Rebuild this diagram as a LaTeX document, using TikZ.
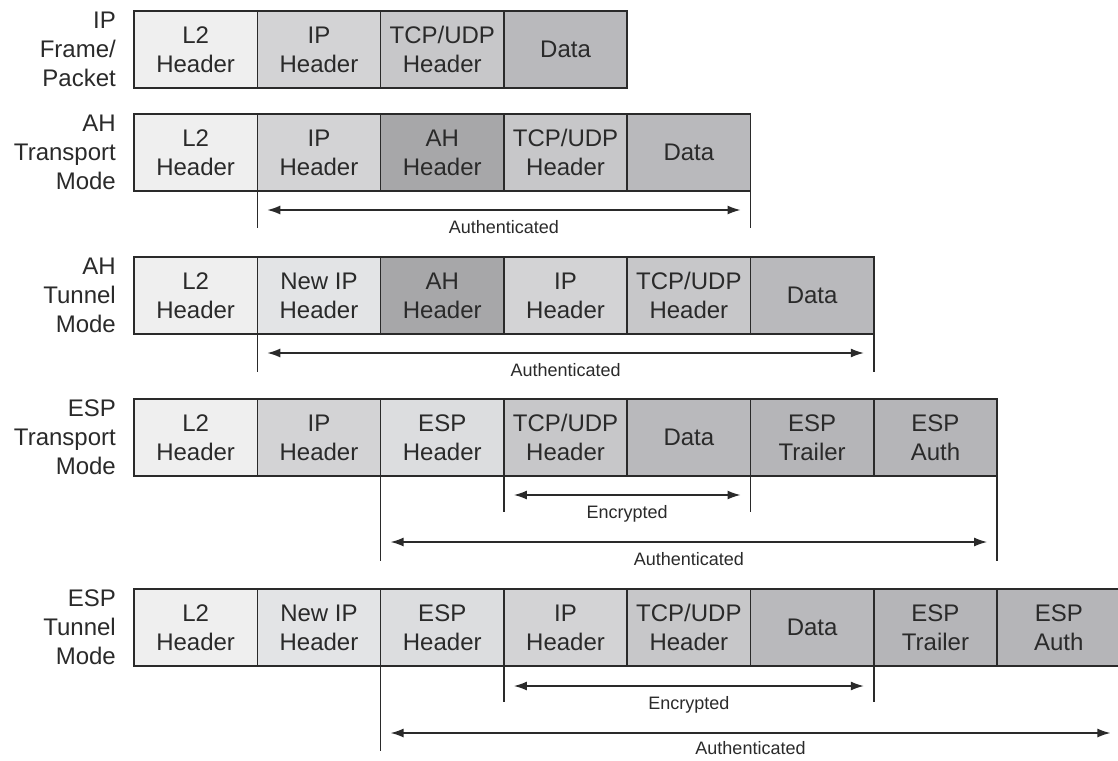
\documentclass[tikz,border=0pt]{standalone}
\usepackage{fontspec}
\setmainfont{Liberation Sans}
\usetikzlibrary{arrows.meta}

\definecolor{ink}{HTML}{2A2A2A}
\definecolor{fillLtwo}{HTML}{EFEFEF}
\definecolor{fillNewIP}{HTML}{E3E4E6}
\definecolor{fillESPhdr}{HTML}{DCDDDF}
\definecolor{fillIP}{HTML}{D3D3D5}
\definecolor{fillTCP}{HTML}{C7C7C9}
\definecolor{fillData}{HTML}{B9B9BC}
\definecolor{fillAH}{HTML}{A7A7A9}
\definecolor{fillESPtail}{HTML}{B5B5B8}

\begin{document}
\begin{tikzpicture}[x=1pt, y=-1pt,
  cell/.style={draw=ink, line width=1.6pt, minimum width=123.3pt,
    minimum height=77pt, inner sep=0pt, outer sep=0pt, anchor=north west,
    align=center, text=ink, font=\fontsize{24}{29}\selectfont},
  ltwo/.style={cell, fill=fillLtwo},
  newip/.style={cell, fill=fillNewIP},
  esphdr/.style={cell, fill=fillESPhdr},
  iphdr/.style={cell, fill=fillIP},
  tcphdr/.style={cell, fill=fillTCP},
  datacell/.style={cell, fill=fillData},
  ahhdr/.style={cell, fill=fillAH},
  esptail/.style={cell, fill=fillESPtail},
  rowlabel/.style={anchor=east, align=right, inner sep=0pt, text=ink,
    font=\fontsize{24}{29}\selectfont},
  tickline/.style={draw=ink, line width=1.4pt},
  span/.style={draw=ink, line width=1.4pt,
    {Latex[length=13pt,width=9pt]}-{Latex[length=13pt,width=9pt]},
    shorten <=10pt, shorten >=10pt},
  spanlabel/.style={inner sep=0pt, anchor=north, yshift=-10pt, text=ink,
    font=\fontsize{18}{20}\selectfont}
]
\useasboundingbox (0,0) rectangle (1118,760);

% ---- IP frame / packet ----
\node[ltwo]   (a1) at (134,11) {L2\\Header};
\node[iphdr]  (a2) at (a1.north east) {IP\\Header};
\node[tcphdr] (a3) at (a2.north east) {TCP/UDP\\Header};
\node[datacell] (a4) at (a3.north east) {Data};
\node[rowlabel] (la) at (116,49.5) {IP\\Frame/\\Packet};

% ---- AH transport mode ----
\node[ltwo]   (b1) at (134,114) {L2\\Header};
\node[iphdr]  (b2) at (b1.north east) {IP\\Header};
\node[ahhdr]  (b3) at (b2.north east) {AH\\Header};
\node[tcphdr] (b4) at (b3.north east) {TCP/UDP\\Header};
\node[datacell] (b5) at (b4.north east) {Data};
\node[rowlabel] (lb) at (116,152.5) {AH\\Transport\\Mode};

\coordinate (bL) at ([yshift=-37pt]b2.south west);
\coordinate (bR) at ([yshift=-37pt]b5.south east);
\draw[tickline] (b2.south west) -- (bL);
\draw[tickline] (b5.south east) -- (bR);
\coordinate (bLa) at ([yshift=-19pt]b2.south west);
\coordinate (bRa) at ([yshift=-19pt]b5.south east);
\draw[span] (bLa) -- node[spanlabel] (sb) {Authenticated} (bRa);

% ---- AH tunnel mode ----
\node[ltwo]   (c1) at (134,257) {L2\\Header};
\node[newip]  (c2) at (c1.north east) {New IP\\Header};
\node[ahhdr]  (c3) at (c2.north east) {AH\\Header};
\node[iphdr]  (c4) at (c3.north east) {IP\\Header};
\node[tcphdr] (c5) at (c4.north east) {TCP/UDP\\Header};
\node[datacell] (c6) at (c5.north east) {Data};
\node[rowlabel] (lc) at (116,295.5) {AH\\Tunnel\\Mode};

\coordinate (cL) at ([yshift=-38pt]c2.south west);
\coordinate (cR) at ([yshift=-38pt]c6.south east);
\draw[tickline] (c2.south west) -- (cL);
\draw[tickline] (c6.south east) -- (cR);
\coordinate (cLa) at ([yshift=-19pt]c2.south west);
\coordinate (cRa) at ([yshift=-19pt]c6.south east);
\draw[span] (cLa) -- node[spanlabel] (sc) {Authenticated} (cRa);

% ---- ESP transport mode ----
\node[ltwo]   (d1) at (134,399) {L2\\Header};
\node[iphdr]  (d2) at (d1.north east) {IP\\Header};
\node[esphdr] (d3) at (d2.north east) {ESP\\Header};
\node[tcphdr] (d4) at (d3.north east) {TCP/UDP\\Header};
\node[datacell] (d5) at (d4.north east) {Data};
\node[esptail] (d6) at (d5.north east) {ESP\\Trailer};
\node[esptail] (d7) at (d6.north east) {ESP\\Auth};
\node[rowlabel] (ld) at (116,437.5) {ESP\\Transport\\Mode};

% encrypted span
\coordinate (dEL) at ([yshift=-36pt]d4.south west);
\coordinate (dER) at ([yshift=-36pt]d5.south east);
\draw[tickline] (d4.south west) -- (dEL);
\draw[tickline] (d5.south east) -- (dER);
\coordinate (dELa) at ([yshift=-19pt]d4.south west);
\coordinate (dERa) at ([yshift=-19pt]d5.south east);
\draw[span] (dELa) -- node[spanlabel] (sdE) {Encrypted} (dERa);
% authenticated span
\coordinate (dAL) at ([yshift=-85pt]d3.south west);
\coordinate (dAR) at ([yshift=-85pt]d7.south east);
\draw[tickline] (d3.south west) -- (dAL);
\draw[tickline] (d7.south east) -- (dAR);
\coordinate (dALa) at ([yshift=-66pt]d3.south west);
\coordinate (dARa) at ([yshift=-66pt]d7.south east);
\draw[span] (dALa) -- node[spanlabel] (sdA) {Authenticated} (dARa);

% ---- ESP tunnel mode ----
\node[ltwo]   (e1) at (134,589) {L2\\Header};
\node[newip]  (e2) at (e1.north east) {New IP\\Header};
\node[esphdr] (e3) at (e2.north east) {ESP\\Header};
\node[iphdr]  (e4) at (e3.north east) {IP\\Header};
\node[tcphdr] (e5) at (e4.north east) {TCP/UDP\\Header};
\node[datacell] (e6) at (e5.north east) {Data};
\node[esptail] (e7) at (e6.north east) {ESP\\Trailer};
\node[esptail] (e8) at (e7.north east) {ESP\\Auth};
\node[rowlabel] (le) at (116,627.5) {ESP\\Tunnel\\Mode};

% encrypted span
\coordinate (eEL) at ([yshift=-36pt]e4.south west);
\coordinate (eER) at ([yshift=-36pt]e6.south east);
\draw[tickline] (e4.south west) -- (eEL);
\draw[tickline] (e6.south east) -- (eER);
\coordinate (eELa) at ([yshift=-20pt]e4.south west);
\coordinate (eERa) at ([yshift=-20pt]e6.south east);
\draw[span] (eELa) -- node[spanlabel] (seE) {Encrypted} (eERa);
% authenticated span (its right end runs off the page)
\coordinate (eAL) at ([yshift=-85pt]e3.south west);
\draw[tickline] (e3.south west) -- (eAL);
\coordinate (eALa) at ([yshift=-67pt]e3.south west);
\coordinate (eARa) at ([yshift=-67pt]e8.south east);
\draw[span] (eALa) -- node[spanlabel, yshift=2pt] (seA) {Authenticated} (eARa);

\end{tikzpicture}
\end{document}
